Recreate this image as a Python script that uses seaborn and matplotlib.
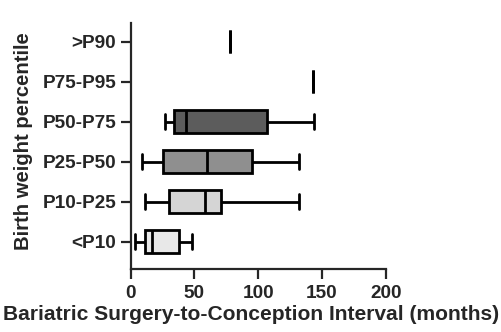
import seaborn as sns
import pandas as pd
import matplotlib.pyplot as plt

# birth weight groups, top to bottom
groups = ['>P90', 'P75-P95', 'P50-P75', 'P25-P50', 'P10-P25', '<P10']
# min, q1, median, q3, max (months)
p90 = [78]
p75_95 = [143]
p50_75 = [27, 34, 43, 107, 144]
p25_50 = [9, 25, 60, 95, 132]
p10_25 = [11, 30, 58, 71, 132]
p10 = [3, 11, 17, 38, 48]
colours = ['#ffffff', '#ffffff', '#5c5c5c', '#8f8f8f', '#d5d5d5', '#e8e8e8']

vals = [p90, p75_95, p50_75, p25_50, p10_25, p10]
df = pd.DataFrame({
    'group': [g for g, v in zip(groups, vals) for _ in v],
    'months': [x for v in vals for x in v],
})

sns.set_style('ticks')
plt.rcParams['font.family'] = ['Liberation Sans', 'DejaVu Sans']
plt.rcParams['font.weight'] = 'bold'

fig = plt.figure(figsize=(5.02, 3.32), dpi=100)
ax = fig.add_axes([0.2604, 0.1898, 0.508, 0.741])

sns.boxplot(data=df, x='months', y='group', order=groups, hue='group',
            hue_order=groups, palette=colours, legend=False, whis=(0, 100),
            width=0.57, linewidth=2, linecolor='black', saturation=1,
            showfliers=False, ax=ax)

# shorter caps like the original
for ln in ax.lines:
    ys = ln.get_ydata()
    xs = ln.get_xdata()
    if len(xs) == 2 and xs[0] == xs[1] and abs(ys[1] - ys[0]) < 0.3:
        c = (ys[0] + ys[1]) / 2
        ln.set_ydata([c - 0.19, c + 0.19])

ax.set_xlim(0, 200)
ax.set_ylim(5.68, -0.47)
ax.set_xticks([0, 50, 100, 150, 200])
sns.despine(ax=ax)
for s in ['left', 'bottom']:
    ax.spines[s].set_linewidth(1.6)
ax.tick_params(axis='both', length=7.5, width=1.6, labelsize=13.7)
ax.tick_params(axis='x', pad=4)
ax.tick_params(axis='y', pad=3)
ax.set_xlabel('Bariatric Surgery-to-Conception Interval (months)',
              fontsize=15.1, fontweight='bold')
ax.xaxis.set_label_coords(251 / 502, 27 / 332, transform=fig.transFigure)
ax.xaxis.label.set_va('top')
ax.set_ylabel('Birth weight percentile', fontsize=14.6, fontweight='bold')
ax.yaxis.set_label_coords(33 / 502, 1 - 141.5 / 332, transform=fig.transFigure)
ax.yaxis.label.set_va('bottom')

fig.savefig('out.png', dpi=100)
